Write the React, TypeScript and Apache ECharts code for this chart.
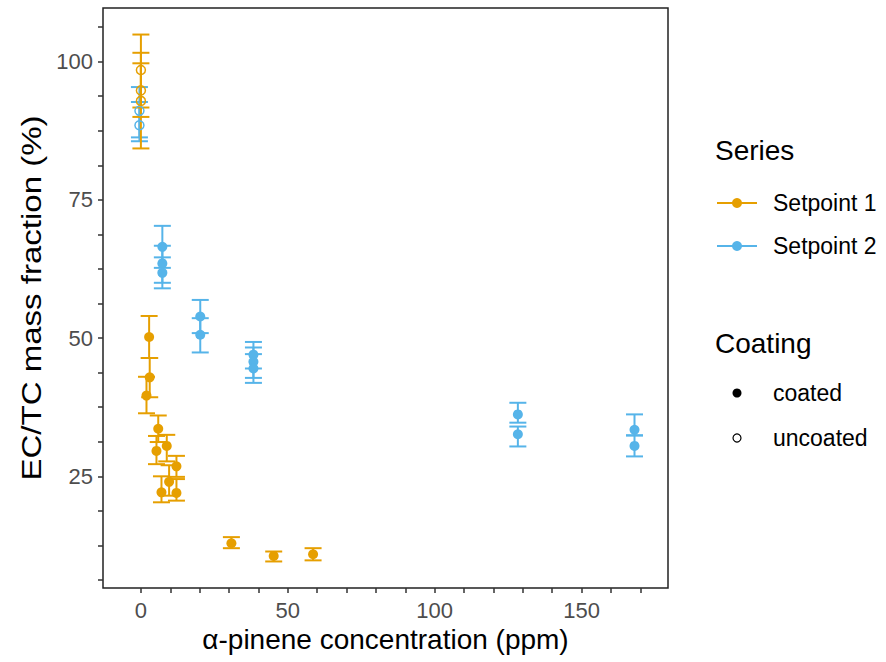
import React, { useEffect, useRef } from "react";
import * as echarts from "echarts";

const ORANGE = "#E69F00";
const BLUE = "#56B4E9";
const FONT = "Liberation Sans, Arial, sans-serif";

// Setpoint 1, coated
const s1cX = [2.8, 3.0, 1.9, 5.9, 5.3, 8.8, 12.1, 9.6, 7.0, 12.1, 30.8, 45.2, 58.6];
const s1cY = [50.2, 42.9, 39.6, 33.6, 29.6, 30.5, 26.8, 24.0, 22.1, 22.0, 12.9, 10.6, 10.9];
const s1cLo = [46.4, 39.3, 36.4, 31.2, 27.2, 27.7, 24.9, 21.5, 20.3, 20.6, 12.0, 9.6, 9.8];
const s1cHi = [54.0, 46.4, 43.0, 36.0, 32.3, 32.5, 28.7, 27.0, 25.0, 24.5, 14.0, 11.4, 12.0];

// Setpoint 1, uncoated
const s1uX = [0.0, 0.0, 0.0];
const s1uY = [98.5, 94.8, 92.9];
const s1uLo = [91.7, 90.0, 84.3];
const s1uHi = [104.9, 99.7, 101.6];

// Setpoint 2, coated
const s2cX = [7.3, 7.3, 7.3, 20.2, 20.2, 38.3, 38.3, 38.3, 128.3, 128.3, 168.0, 168.0];
const s2cY = [66.5, 63.5, 61.8, 53.9, 50.6, 47.0, 45.7, 44.5, 36.2, 32.6, 33.4, 30.5];
const s2cLo = [62.7, 60.0, 59.0, 50.9, 47.4, 44.5, 42.8, 41.9, 34.7, 30.4, 32.4, 28.6];
const s2cHi = [70.3, 66.7, 64.6, 56.9, 53.6, 49.3, 48.3, 47.1, 38.3, 34.0, 36.2, 32.4];

// Setpoint 2, uncoated
const s2uX = [-0.5, -0.5];
const s2uY = [91.1, 88.5];
const s2uLo = [86.3, 85.6];
const s2uHi = [95.4, 92.7];

const yLabels = [25, 50, 75, 100];
const yTicks = [6.25, 12.5, 18.75, 25, 31.25, 37.5, 43.75, 50, 56.25, 62.5, 68.75, 75, 81.25, 87.5, 93.75, 100, 106.25];
const xLabels = [0, 50, 100, 150];
const xTicks = [0, 10, 20, 30, 40, 50, 60, 70, 80, 90, 100, 110, 120, 130, 140, 150, 160, 170];

const seriesNames = ["Setpoint 1", "Setpoint 2"];
const coatingNames = ["coated", "uncoated"];

function pts(xs: number[], ys: number[]) {
  return xs.map((x, i) => [x, ys[i]]);
}
function errs(xs: number[], lo: number[], hi: number[]) {
  return xs.map((x, i) => [x, lo[i], hi[i]]);
}

function errRender(color: string) {
  return (params: any, api: any) => {
    const x = api.value(0);
    const lo = api.value(1);
    const hi = api.value(2);
    const a = api.coord([x, lo]);
    const b = api.coord([x, hi]);
    const hw = 8.5;
    const style = { stroke: color, lineWidth: 2, fill: null };
    return {
      type: "group",
      children: [
        { type: "line", shape: { x1: a[0], y1: a[1], x2: b[0], y2: b[1] }, style },
        { type: "line", shape: { x1: a[0] - hw, y1: a[1], x2: a[0] + hw, y2: a[1] }, style },
        { type: "line", shape: { x1: b[0] - hw, y1: b[1], x2: b[0] + hw, y2: b[1] }, style },
      ],
    };
  };
}

export default function App() {
  const ref = useRef<HTMLDivElement>(null);
  useEffect(() => {
    if (!ref.current) return;
    const chart = echarts.init(ref.current, null, { renderer: "svg" });
    const errSeries = (name: string, color: string, data: number[][]) => ({
      type: "custom",
      name,
      renderItem: errRender(color),
      data,
      encode: { x: 0, y: [1, 2] },
      z: 2,
      silent: true,
    });
    const filled = (color: string, data: number[][]) => ({
      type: "scatter",
      data,
      symbol: "circle",
      symbolSize: 10,
      itemStyle: { color, opacity: 1 },
      z: 3,
      silent: true,
    });
    const hollow = (color: string, data: number[][]) => ({
      type: "scatter",
      data,
      symbol: "circle",
      symbolSize: 9,
      itemStyle: { color: "rgba(0,0,0,0)", borderColor: color, borderWidth: 1.5, opacity: 1 },
      z: 3,
      silent: true,
    });
    const legendX = 737;
    const textX = 773;
    chart.setOption({
      animation: false,
      grid: {
        left: 103,
        right: 218,
        top: 8,
        bottom: 74,
        show: true,
        borderColor: "#222",
        borderWidth: 1.5,
        backgroundColor: "#fff",
      },
      xAxis: {
        type: "value",
        min: -12.9,
        max: 179.4,
        name: "α-pinene concentration (ppm)",
        nameLocation: "middle",
        nameGap: 31,
        nameTextStyle: { fontFamily: FONT, fontSize: 28, color: "#000" },
        axisLine: { show: false, onZero: false },
        splitLine: { show: false },
        axisTick: { show: true, length: 5, lineStyle: { color: "#333", width: 1.5 }, customValues: xTicks },
        axisLabel: { fontFamily: FONT, fontSize: 22, color: "#4D4D4D", margin: 11, customValues: xLabels },
      },
      yAxis: {
        type: "value",
        min: 4.8,
        max: 109.7,
        axisLine: { show: false, onZero: false },
        splitLine: { show: false },
        axisTick: { show: true, length: 5, lineStyle: { color: "#333", width: 1.5 }, customValues: yTicks },
        axisLabel: { fontFamily: FONT, fontSize: 22, color: "#4D4D4D", margin: 10, customValues: yLabels },
      },
      series: [
        errSeries("Setpoint 2 err", BLUE, errs(s2cX, s2cLo, s2cHi)),
        errSeries("Setpoint 2 err u", BLUE, errs(s2uX, s2uLo, s2uHi)),
        errSeries("Setpoint 1 err", ORANGE, errs(s1cX, s1cLo, s1cHi)),
        errSeries("Setpoint 1 err u", ORANGE, errs(s1uX, s1uLo, s1uHi)),
        filled(BLUE, pts(s2cX, s2cY)),
        hollow(BLUE, pts(s2uX, s2uY)),
        filled(ORANGE, pts(s1cX, s1cY)),
        hollow(ORANGE, pts(s1uX, s1uY)),
      ],
      graphic: [
        {
          type: "text",
          x: 31,
          y: 298,
          rotation: Math.PI / 2,
          scaleX: 1.18,
          style: { text: "EC/TC mass fraction (%)", font: `28px ${FONT}`, fill: "#000", align: "center", verticalAlign: "middle" },
        },
        { type: "text", x: 715, y: 150, style: { text: "Series", font: `28px ${FONT}`, fill: "#000", verticalAlign: "middle" } },
        { type: "line", shape: { x1: 717, y1: 203, x2: 757, y2: 203 }, style: { stroke: ORANGE, lineWidth: 2 } },
        { type: "circle", shape: { cx: legendX, cy: 203, r: 5 }, style: { fill: ORANGE } },
        { type: "text", x: textX, y: 203, style: { text: seriesNames[0], font: `23px ${FONT}`, fill: "#000", verticalAlign: "middle" } },
        { type: "line", shape: { x1: 717, y1: 246, x2: 757, y2: 246 }, style: { stroke: BLUE, lineWidth: 2 } },
        { type: "circle", shape: { cx: legendX, cy: 246, r: 5 }, style: { fill: BLUE } },
        { type: "text", x: textX, y: 246, style: { text: seriesNames[1], font: `23px ${FONT}`, fill: "#000", verticalAlign: "middle" } },
        { type: "text", x: 715, y: 343, style: { text: "Coating", font: `28px ${FONT}`, fill: "#000", verticalAlign: "middle" } },
        { type: "circle", shape: { cx: legendX, cy: 393, r: 4.5 }, style: { fill: "#000" } },
        { type: "text", x: textX, y: 393, style: { text: coatingNames[0], font: `23px ${FONT}`, fill: "#000", verticalAlign: "middle" } },
        { type: "circle", shape: { cx: legendX, cy: 438, r: 4 }, style: { fill: "none", stroke: "#000", lineWidth: 1.2 } },
        { type: "text", x: textX, y: 438, style: { text: coatingNames[1], font: `23px ${FONT}`, fill: "#000", verticalAlign: "middle" } },
      ],
    });
    return () => chart.dispose();
  }, []);
  return (
    <div
      ref={ref}
      style={{ position: "absolute", left: 0, top: 0, width: 886, height: 662, background: "#fff" }}
    />
  );
}
